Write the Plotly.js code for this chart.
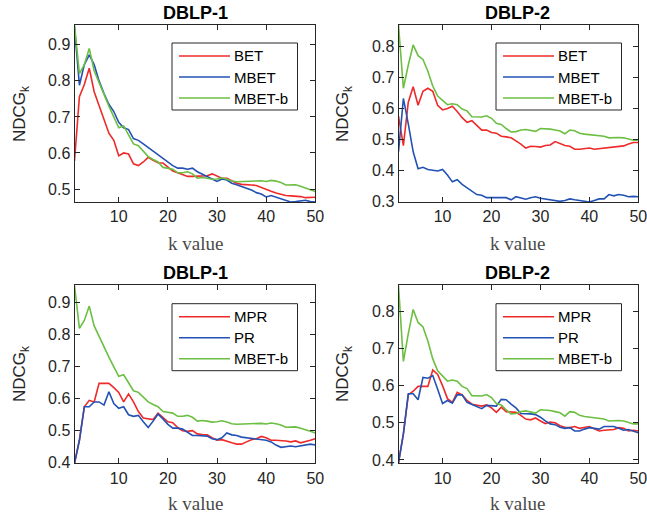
<!DOCTYPE html>
<html>
<head>
<meta charset="utf-8">
<script src="https://cdn.plot.ly/plotly-3.0.1.min.js"></script>
<style>html,body{margin:0;padding:0;background:#fff;}#chart{width:647px;height:516px;}</style>
</head>
<body>
<div id="chart"></div>
<script>
const k = [1,2,3,4,5,6,7,8,9,10,11,12,13,14,15,16,17,18,19,20,21,22,23,24,25,26,27,28,29,30,31,32,33,34,35,36,37,38,39,40,41,42,43,44,45,46,47,48,49,50];

// DBLP-1
const d1_BET = [0.578,0.756,0.79,0.835,0.77,0.73,0.69,0.655,0.635,0.592,0.60,0.597,0.57,0.565,0.575,0.588,0.58,0.573,0.572,0.56,0.55,0.545,0.54,0.535,0.535,0.535,0.536,0.537,0.542,0.535,0.53,0.53,0.524,0.516,0.513,0.511,0.511,0.51,0.504,0.498,0.494,0.489,0.485,0.482,0.481,0.481,0.479,0.476,0.477,0.477];
const d1_MBET = [0.95,0.788,0.845,0.872,0.845,0.80,0.765,0.735,0.715,0.685,0.67,0.665,0.64,0.635,0.625,0.615,0.605,0.595,0.585,0.575,0.565,0.558,0.558,0.555,0.558,0.548,0.542,0.535,0.528,0.521,0.528,0.525,0.516,0.512,0.506,0.502,0.497,0.49,0.486,0.478,0.482,0.477,0.473,0.467,0.464,0.465,0.467,0.469,0.465,0.464];
const d1_MBETb = [0.955,0.82,0.845,0.89,0.828,0.795,0.758,0.73,0.70,0.67,0.675,0.65,0.625,0.62,0.605,0.59,0.582,0.575,0.56,0.557,0.555,0.545,0.545,0.548,0.542,0.53,0.532,0.53,0.527,0.528,0.531,0.527,0.522,0.52,0.521,0.521,0.521,0.522,0.523,0.521,0.524,0.522,0.518,0.511,0.511,0.512,0.508,0.504,0.498,0.493];
const d1_MPR = [0.398,0.47,0.575,0.595,0.59,0.648,0.648,0.648,0.635,0.62,0.59,0.615,0.59,0.56,0.54,0.538,0.535,0.555,0.54,0.528,0.525,0.51,0.50,0.498,0.50,0.49,0.488,0.487,0.478,0.47,0.472,0.466,0.462,0.458,0.458,0.465,0.472,0.475,0.482,0.478,0.47,0.47,0.47,0.468,0.465,0.468,0.462,0.465,0.47,0.475];
const d1_PR = [0.398,0.47,0.575,0.575,0.59,0.59,0.58,0.622,0.585,0.57,0.575,0.55,0.545,0.548,0.528,0.51,0.53,0.552,0.537,0.52,0.508,0.508,0.505,0.495,0.485,0.485,0.485,0.483,0.475,0.472,0.478,0.493,0.487,0.485,0.48,0.478,0.475,0.472,0.472,0.47,0.465,0.455,0.448,0.45,0.452,0.45,0.452,0.455,0.458,0.455];

// DBLP-2
const d2_BET = [0.575,0.48,0.62,0.67,0.61,0.655,0.665,0.655,0.61,0.595,0.60,0.607,0.59,0.57,0.555,0.56,0.545,0.53,0.53,0.522,0.52,0.51,0.508,0.505,0.495,0.485,0.472,0.478,0.477,0.475,0.48,0.482,0.493,0.487,0.48,0.478,0.468,0.468,0.47,0.472,0.468,0.47,0.472,0.473,0.475,0.478,0.479,0.485,0.49,0.49];
const d2_MBET = [0.46,0.632,0.55,0.46,0.405,0.41,0.403,0.40,0.398,0.403,0.385,0.363,0.37,0.355,0.343,0.333,0.322,0.32,0.312,0.312,0.313,0.312,0.312,0.305,0.315,0.312,0.307,0.312,0.315,0.31,0.308,0.305,0.302,0.30,0.303,0.308,0.305,0.303,0.302,0.298,0.303,0.308,0.308,0.322,0.318,0.322,0.32,0.315,0.316,0.315];
const d2_MBETb = [0.869,0.665,0.74,0.805,0.77,0.758,0.72,0.672,0.64,0.625,0.612,0.615,0.612,0.598,0.592,0.573,0.572,0.572,0.576,0.568,0.552,0.548,0.535,0.524,0.525,0.53,0.532,0.528,0.526,0.535,0.535,0.533,0.53,0.527,0.518,0.53,0.528,0.52,0.517,0.515,0.513,0.512,0.51,0.505,0.506,0.506,0.505,0.50,0.497,0.497];
const d2_MPR = [0.392,0.47,0.575,0.585,0.598,0.597,0.598,0.642,0.63,0.60,0.565,0.555,0.582,0.575,0.56,0.55,0.548,0.545,0.548,0.54,0.528,0.542,0.53,0.53,0.528,0.52,0.51,0.508,0.513,0.505,0.498,0.502,0.50,0.492,0.488,0.487,0.49,0.485,0.488,0.49,0.484,0.478,0.48,0.48,0.482,0.487,0.485,0.478,0.48,0.478];
const d2_PR = [0.392,0.47,0.578,0.578,0.562,0.622,0.62,0.627,0.59,0.552,0.56,0.553,0.575,0.575,0.555,0.55,0.543,0.538,0.547,0.545,0.545,0.563,0.562,0.55,0.54,0.525,0.525,0.524,0.522,0.515,0.505,0.497,0.495,0.488,0.485,0.487,0.478,0.478,0.483,0.487,0.485,0.483,0.49,0.49,0.49,0.485,0.48,0.482,0.477,0.473];

const titles = ['DBLP-1', 'DBLP-2', 'DBLP-1', 'DBLP-2'];
const legendTop = ['BET', 'MBET', 'MBET-b'];
const legendBottom = ['MPR', 'PR', 'MBET-b'];
const xLabel = 'k value';
const yLabel = 'NDCG<sub>k</sub>';
const yTicks1 = [0.5,0.6,0.7,0.8,0.9];
const yTicks2 = [0.3,0.4,0.5,0.6,0.7,0.8];
const yTicks3 = [0.4,0.5,0.6,0.7,0.8,0.9];
const yTicks4 = [0.4,0.5,0.6,0.7,0.8];
const xTicks = [10,20,30,40,50];

const RED = '#ee2a2a', BLUE = '#2352b4', GREEN = '#6cbf42';
const COLORS = [RED, BLUE, GREEN];
const W = 647, H = 516;
const px = v => v / W;
const py = v => 1 - v / H;

function tr(y, name, color, xa, ya) {
  return {x: k, y: y, name: name, type: 'scatter', mode: 'lines',
    line: {color: color, width: 1.6}, xaxis: xa, yaxis: ya, showlegend: false};
}

const data = [
  tr(d1_BET, legendTop[0], RED, 'x', 'y'),
  tr(d1_MBET, legendTop[1], BLUE, 'x', 'y'),
  tr(d1_MBETb, legendTop[2], GREEN, 'x', 'y'),
  tr(d2_BET, legendTop[0], RED, 'x2', 'y2'),
  tr(d2_MBET, legendTop[1], BLUE, 'x2', 'y2'),
  tr(d2_MBETb, legendTop[2], GREEN, 'x2', 'y2'),
  tr(d1_MPR, legendBottom[0], RED, 'x3', 'y3'),
  tr(d1_PR, legendBottom[1], BLUE, 'x3', 'y3'),
  tr(d1_MBETb, legendBottom[2], GREEN, 'x3', 'y3'),
  tr(d2_MPR, legendBottom[0], RED, 'x4', 'y4'),
  tr(d2_PR, legendBottom[1], BLUE, 'x4', 'y4'),
  tr(d2_MBETb, legendBottom[2], GREEN, 'x4', 'y4')
];

const AX = '#262626';
function xax(dom, anchor) {
  return {domain: dom, anchor: anchor, range: [1, 50], tickvals: xTicks, ticks: 'inside', ticklen: 5,
    tickcolor: AX, showline: true, linecolor: AX, linewidth: 1, mirror: 'ticks', showgrid: false,
    zeroline: false, tickfont: {size: 16, color: AX}, ticklabeloverflow: 'allow', fixedrange: true};
}
function yax(dom, anchor, range, tv) {
  return {domain: dom, anchor: anchor, range: range, tickvals: tv, tickformat: '.1f', ticks: 'inside', ticklen: 5,
    tickcolor: AX, showline: true, linecolor: AX, linewidth: 1, mirror: 'ticks', showgrid: false,
    zeroline: false, tickfont: {size: 16, color: AX}, ticklabeloverflow: 'allow', fixedrange: true};
}

const colL = [px(74.5), px(315.3)], colR = [px(398.5), px(638.3)];
const rowT = [py(202), py(25)], rowB = [py(463.3), py(285.3)];

const ann = [];
const shapes = [];
const tpos = [[195, 13], [517.5, 13], [195, 273.3], [517.5, 273.3]];
tpos.forEach((p, i) => ann.push({text: '<b>' + titles[i] + '</b>', x: px(p[0]), y: py(p[1]), xref: 'paper', yref: 'paper',
  xanchor: 'center', yanchor: 'middle', showarrow: false, font: {size: 18, color: '#000'}}));
const xlpos = [[195, 243.5], [517.5, 243.5], [195, 503.8], [517.5, 503.8]];
xlpos.forEach(p => ann.push({text: xLabel, x: px(p[0]), y: py(p[1]), xref: 'paper', yref: 'paper',
  xanchor: 'center', yanchor: 'middle', showarrow: false, font: {size: 19, color: '#4a4a4a', family: 'Liberation Serif, Times New Roman, serif'}}));
const ylpos = [[21, 114], [344, 114], [21, 374], [344, 374]];
ylpos.forEach(p => ann.push({text: yLabel, x: px(p[0]), y: py(p[1]), xref: 'paper', yref: 'paper', textangle: -90,
  xanchor: 'center', yanchor: 'middle', showarrow: false, font: {size: 17, color: AX}}));

// legends: box top-left corners
const legPos = [[172, 43, legendTop], [496, 43, legendTop], [172, 303.7, legendBottom], [496, 303.7, legendBottom]];
legPos.forEach(([lx, ly, names]) => {
  shapes.push({type: 'rect', xref: 'paper', yref: 'paper', x0: px(lx), x1: px(lx + 125.5), y0: py(ly), y1: py(ly + 67),
    line: {color: AX, width: 1}, fillcolor: '#fff', layer: 'above'});
  names.forEach((nm, j) => {
    const ry = ly + 13 + j * 21;
    shapes.push({type: 'line', xref: 'paper', yref: 'paper', x0: px(lx + 7), x1: px(lx + 58), y0: py(ry), y1: py(ry),
      line: {color: COLORS[j], width: 1.6}, layer: 'above'});
    ann.push({text: nm, x: px(lx + 59.5), y: py(ry), xref: 'paper', yref: 'paper', xanchor: 'left', yanchor: 'middle',
      showarrow: false, font: {size: 15, color: '#000'}});
  });
});

const layout = {
  width: W, height: H, margin: {l: 0, r: 0, t: 0, b: 0}, paper_bgcolor: '#fff', plot_bgcolor: '#fff',
  font: {family: 'Liberation Sans, Arial, Helvetica, sans-serif', color: AX},
  xaxis: xax(colL, 'y'), yaxis: yax(rowT, 'x', [0.464, 0.955], yTicks1),
  xaxis2: xax(colR, 'y2'), yaxis2: yax(rowT, 'x2', [0.298, 0.869], yTicks2),
  xaxis3: xax(colL, 'y3'), yaxis3: yax(rowB, 'x3', [0.398, 0.955], yTicks3),
  xaxis4: xax(colR, 'y4'), yaxis4: yax(rowB, 'x4', [0.391, 0.870], yTicks4),
  showlegend: false, annotations: ann, shapes: shapes
};

Plotly.newPlot('chart', data, layout, {displayModeBar: false, staticPlot: true});
</script>
</body>
</html>
